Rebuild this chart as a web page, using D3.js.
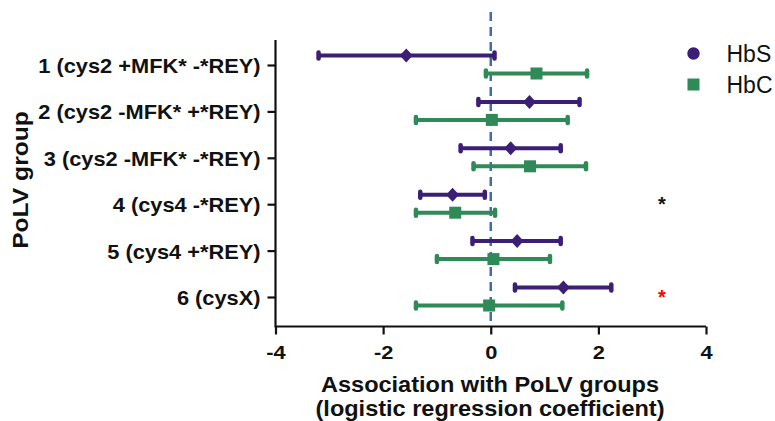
<!DOCTYPE html>
<html>
<head>
<meta charset="utf-8">
<script src="https://cdn.jsdelivr.net/npm/d3@7"></script>
<style>
  body { margin: 0; background: #fff; }
  svg { display: block; font-family: "Liberation Sans", Arial, sans-serif; }
</style>
</head>
<body>
<div id="chart"></div>
<script>
var groups = ["1 (cys2 +MFK* -*REY)", "2 (cys2 -MFK* +*REY)", "3 (cys2 -MFK* -*REY)",
              "4 (cys4 -*REY)", "5 (cys4 +*REY)", "6 (cysX)"];

// HbS: coefficient, lower, upper
var hbsMid = [-1.57, 0.72, 0.37, -0.71, 0.49, 1.35];
var hbsLow = [-3.20, -0.23, -0.56, -1.31, -0.34, 0.45];
var hbsHigh = [0.07, 1.65, 1.30, -0.11, 1.30, 2.24];

// HbC
var hbcMid = [0.85, 0.02, 0.73, -0.66, 0.05, -0.03];
var hbcLow = [-0.09, -1.39, -0.32, -1.39, -1.00, -1.39];
var hbcHigh = [1.79, 1.43, 1.77, 0.08, 1.10, 1.33];

var xTicks = [-4, -2, 0, 2, 4];

// significance stars: group index, colour
var stars = [{g: 3, color: "#111"}, {g: 5, color: "#ff0000"}];

var purple = "#3b1f76";
var green = "#2f8a57";

var width = 775;
var height = 421;

var svg = d3.select('#chart')
            .append('svg')
            .attr('width', width)
            .attr('height', height);

var x = d3.scaleLinear().domain([-4, 4]).range([275.5, 706]);
var y = d3.scalePoint().domain(groups).range([65, 297]);

// text in the picture is a bit wider than Liberation Sans
function stretched(sel, px, py, sx) {
  sel.attr("x", 0).attr("y", 0)
     .attr("transform", "translate(" + px + "," + py + ") scale(" + sx + ",1)");
}

// zero reference line
svg.append("line")
   .attr("x1", x(0)).attr("x2", x(0))
   .attr("y1", 12).attr("y2", 322)
   .attr("stroke", "#3d6ea6")
   .attr("stroke-width", 2.5)
   .attr("stroke-dasharray", "9,6");

// x axis
var xAxis = d3.axisBottom(x).tickValues(xTicks).tickSize(8)
              .tickFormat(function(d){ return d < 0 ? "-" + Math.abs(d) : d; });
var gx = svg.append("g").attr("transform", "translate(0,326.5)").call(xAxis);
gx.select(".domain").attr("stroke", "#111").attr("stroke-width", 2.2)
  .attr("d", "M" + x(-4) + ",0H" + x(4));
gx.selectAll(".tick line").attr("stroke", "#111").attr("stroke-width", 2.2);
gx.selectAll(".tick text").attr("font-size", 19).attr("font-weight", "bold").attr("fill", "#111")
  .attr("dy", null)
  .call(stretched, 0, 32, 1.15);

// y axis
var yAxis = d3.axisLeft(y).tickSize(8);
var gy = svg.append("g").attr("transform", "translate(275.5,0)").call(yAxis);
gy.select(".domain").attr("stroke", "#111").attr("stroke-width", 2.2)
  .attr("d", "M0,40V327.6");
gy.selectAll(".tick line").attr("stroke", "#111").attr("stroke-width", 2.2);
gy.selectAll(".tick text").attr("font-size", 20).attr("font-weight", "bold").attr("fill", "#111")
  .attr("dy", null)
  .call(stretched, -15, 7.5, 1.09);

// axis titles
svg.append("text")
   .attr("text-anchor", "middle")
   .attr("font-size", 22).attr("font-weight", "bold").attr("fill", "#111")
   .text("Association with PoLV groups")
   .call(stretched, 490, 392, 1.07);
svg.append("text")
   .attr("text-anchor", "middle")
   .attr("font-size", 22).attr("font-weight", "bold").attr("fill", "#111")
   .text("(logistic regression coefficient)")
   .call(stretched, 490, 416, 1.07);
svg.append("text")
   .attr("transform", "translate(28,180) rotate(-90) scale(1.12,1)")
   .attr("text-anchor", "middle")
   .attr("font-size", 22).attr("font-weight", "bold").attr("fill", "#111")
   .text("PoLV group");

function drawSeries(mid, low, high, offset, color, shape) {
  var g = svg.append("g");
  var rows = groups.map(function(d, i){
    return {g: d, mid: mid[i], low: low[i], high: high[i]};
  });
  var items = g.selectAll(".row").data(rows).enter().append("g");
  items.append("line")
       .attr("x1", function(d){ return x(d.low); })
       .attr("x2", function(d){ return x(d.high); })
       .attr("y1", function(d){ return y(d.g) + offset; })
       .attr("y2", function(d){ return y(d.g) + offset; })
       .attr("stroke", color).attr("stroke-width", 4);
  ["low", "high"].forEach(function(k){
    items.append("line")
         .attr("x1", function(d){ return x(d[k]); })
         .attr("x2", function(d){ return x(d[k]); })
         .attr("y1", function(d){ return y(d.g) + offset - 3; })
         .attr("y2", function(d){ return y(d.g) + offset + 3; })
         .attr("stroke", color).attr("stroke-width", 4.5)
         .attr("stroke-linecap", "round");
  });
  if (shape === "diamond") {
    items.append("path")
         .attr("d", function(d){
           var cx = x(d.mid), cy = y(d.g) + offset;
           return "M" + (cx - 6.5) + "," + cy + "L" + cx + "," + (cy - 7) +
                  "L" + (cx + 6.5) + "," + cy + "L" + cx + "," + (cy + 7) + "Z";
         })
         .attr("fill", color);
  } else {
    items.append("rect")
         .attr("x", function(d){ return x(d.mid) - 6; })
         .attr("y", function(d){ return y(d.g) + offset - 6; })
         .attr("width", 12).attr("height", 12)
         .attr("fill", color);
  }
}

drawSeries(hbsMid, hbsLow, hbsHigh, -9.5, purple, "diamond");
drawSeries(hbcMid, hbcLow, hbcHigh, 8.5, green, "square");

// stars
svg.selectAll(".star").data(stars).enter().append("text")
   .attr("x", 662)
   .attr("y", function(d){ return y(groups[d.g]) + 7; })
   .attr("text-anchor", "middle")
   .attr("font-size", 20).attr("font-weight", "bold")
   .attr("fill", function(d){ return d.color; })
   .text("*");

// legend
var legend = [{name: "HbS", color: purple, shape: "circle"},
              {name: "HbC", color: green, shape: "square"}];
var lg = svg.selectAll(".legend").data(legend).enter().append("g")
            .attr("transform", function(d, i){ return "translate(693.5," + (53.5 + i * 31) + ")"; });
lg.filter(function(d){ return d.shape === "circle"; }).append("circle")
  .attr("r", 6.2).attr("fill", function(d){ return d.color; });
lg.filter(function(d){ return d.shape === "square"; }).append("rect")
  .attr("x", -6).attr("y", -6).attr("width", 12).attr("height", 12)
  .attr("fill", function(d){ return d.color; });
lg.append("text")
  .attr("x", 33).attr("y", 8)
  .attr("font-size", 23).attr("fill", "#111")
  .text(function(d){ return d.name; });
</script>
</body>
</html>
